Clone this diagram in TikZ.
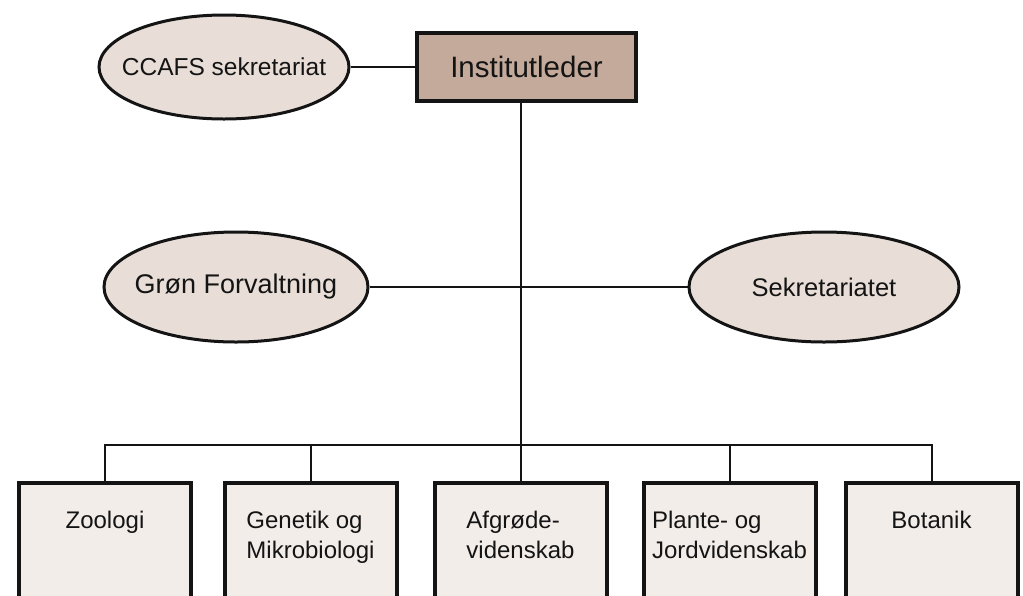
\documentclass[tikz,border=0pt]{standalone}
\usepackage{fontspec}
\setmainfont{Liberation Sans}
\usetikzlibrary{shapes.geometric}
\definecolor{instfill}{RGB}{196,170,155}
\definecolor{ellfill}{RGB}{232,222,215}
\definecolor{boxfill}{RGB}{243,237,234}
\definecolor{ink}{RGB}{20,20,20}
\tikzset{
  ell/.style={ellipse, draw=ink, line width=3pt, fill=ellfill, inner xsep=-40pt, inner ysep=0pt, text=ink},
  dept/.style={rectangle, draw=ink, line width=4pt, fill=boxfill, minimum width=172pt, minimum height=160pt, anchor=north, inner sep=0pt},
  depttext/.style={font=\fontsize{24}{30}\selectfont, text=ink, inner sep=0pt, anchor=base},
  conn/.style={draw=ink, line width=2pt}
}
\begin{document}
\begin{tikzpicture}[x=1pt,y=-1pt]
\useasboundingbox (0,0) rectangle (1023,595);
\clip (0,0) rectangle (1023,595);
\fill[white] (0,0) rectangle (1023,595);
% top
\node[ell, minimum width=250pt, minimum height=104pt, font=\fontsize{24.5}{28}\selectfont] (ccafs) at (224,67) {CCAFS sekretariat};
\node[rectangle, draw=ink, line width=4pt, fill=instfill, minimum width=219pt, minimum height=68pt, inner sep=0pt, font=\fontsize{29.5}{34}\selectfont, text=ink] (inst) at (526.5,67) {Institutleder};
% middle
\node[ell, minimum width=264pt, minimum height=110pt, font=\fontsize{27}{30}\selectfont] (gron) at (236,287) {Grøn Forvaltning};
\node[ell, minimum width=270pt, minimum height=110pt, font=\fontsize{25.5}{30}\selectfont] (sekr) at (824,287) {Sekretariatet};
% departments
\node[dept] (zoo) at (105,481) {};
\node[dept] (gen) at (310.5,481) {};
\node[dept] (afg) at (520.5,481) {};
\node[dept] (pla) at (729.5,481) {};
\node[dept] (bot) at (931.5,481) {};
\node[depttext] (tzoo) at (105,528) {Zoologi};
\node[depttext, align=left] (tgen) at (310.5,558) {Genetik og\\Mikrobiologi};
\node[depttext, align=left] (tafg) at (520.5,558) {Afgrøde-\\videnskab};
\node[depttext, align=left] (tpla) at (729.5,558) {Plante- og\\Jordvidenskab};
\node[depttext] (tbot) at (931.5,528) {Botanik};
% connectors
\coordinate (bus) at (521,445);
\draw[conn] (ccafs.east) -- (inst.west);
\draw[conn] (gron.east) -- (sekr.west);
\draw[conn] (inst.south -| bus) -- (bus);
\draw[conn] (zoo.north) -- (zoo.north |- bus) -- (bot.north |- bus) -- (bot.north);
\draw[conn] (gen.north |- bus) -- (gen.north);
\draw[conn] (afg.north |- bus) -- (afg.north);
\draw[conn] (pla.north |- bus) -- (pla.north);
\end{tikzpicture}
\end{document}
